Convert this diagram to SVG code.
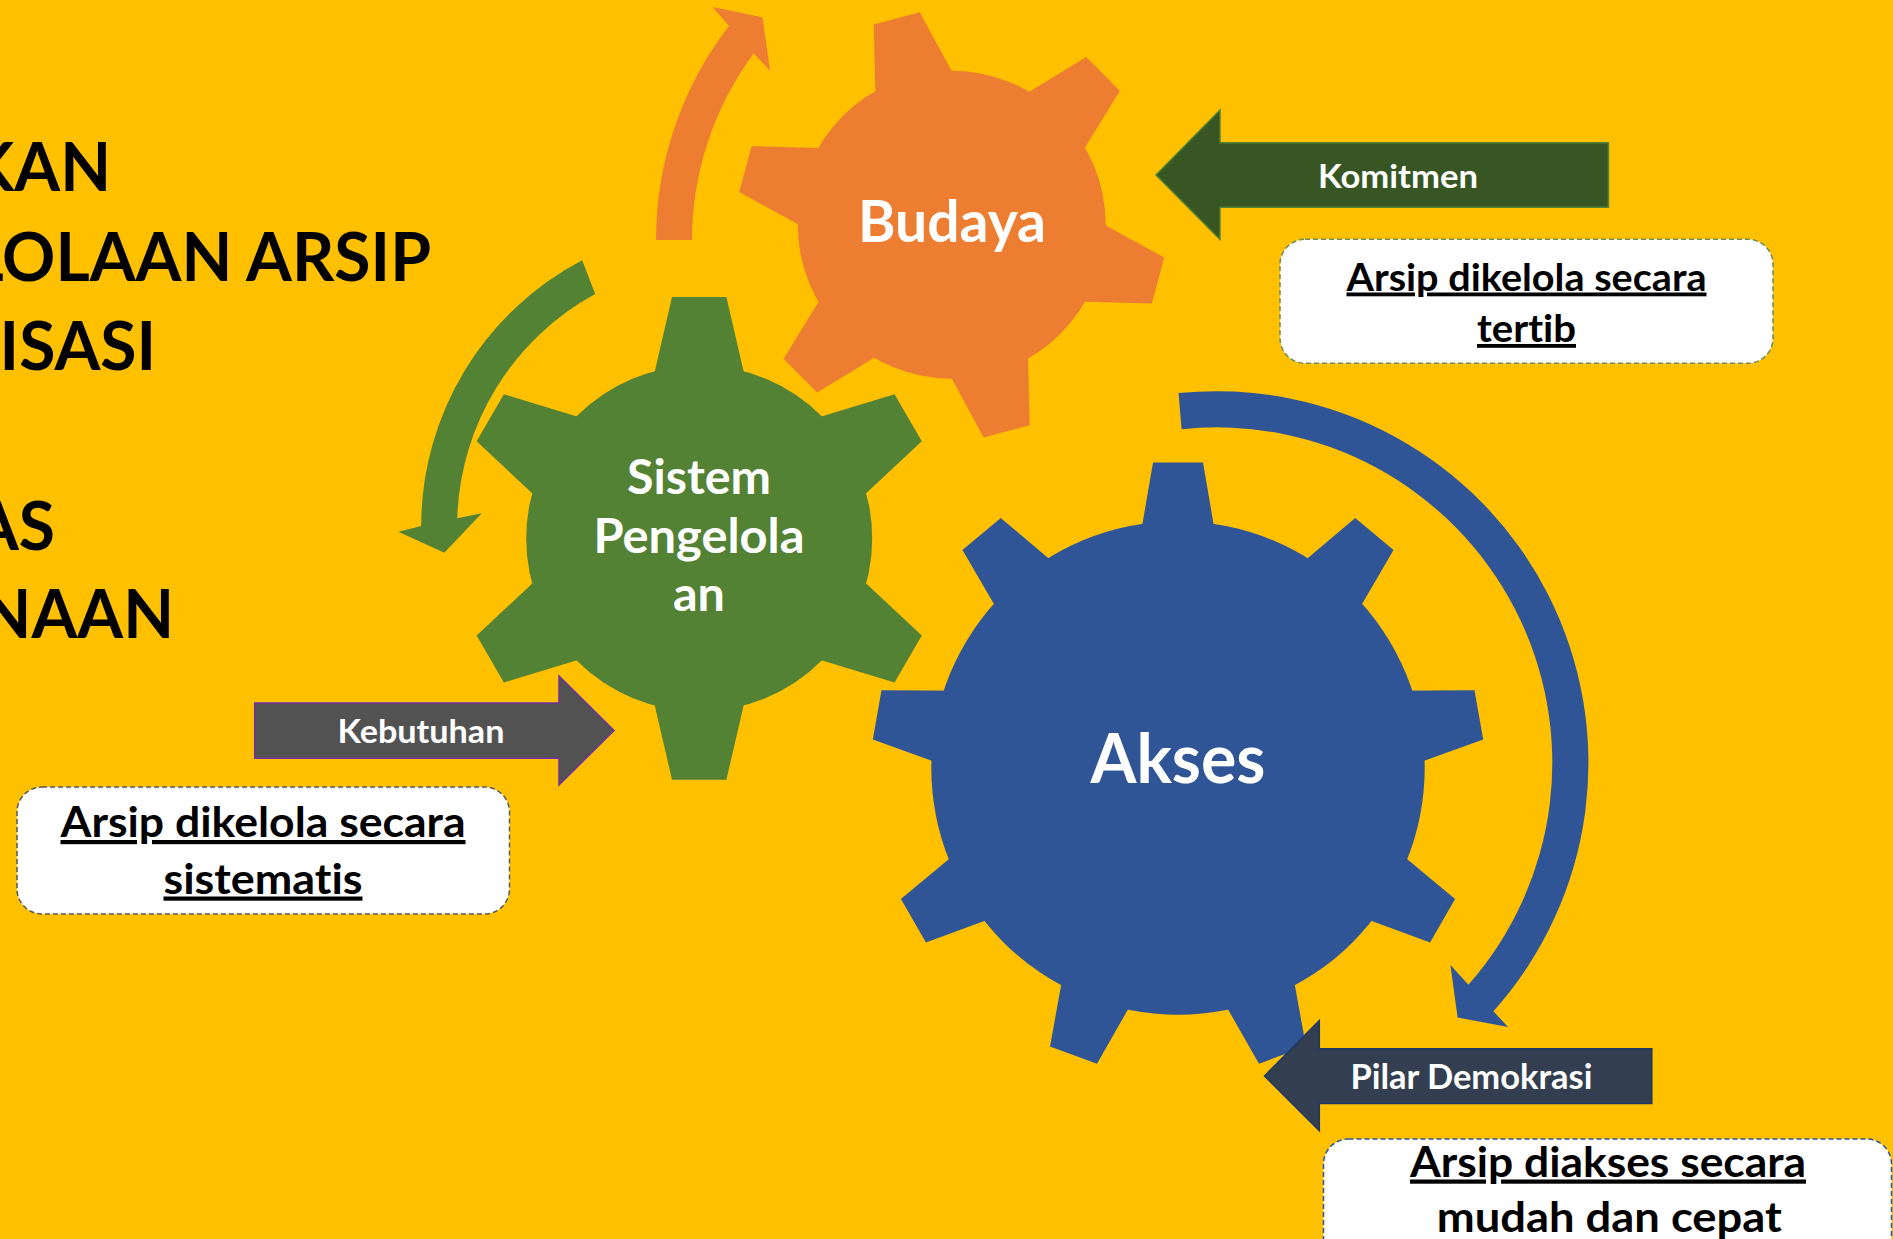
<svg xmlns="http://www.w3.org/2000/svg" width="1893" height="1239" viewBox="0 0 1893 1239">
<style>
.t{font-family:Lato,'Open Sans','Liberation Sans',sans-serif;font-weight:700;font-variant-ligatures:none}
.w{fill:#FFFFFF}
.k{fill:#000000}
.box{fill:#FFFFFF;stroke-width:1.5;stroke-dasharray:5 3}
.u{text-decoration:underline;text-decoration-thickness:3px}
.orange{fill:#ED7D31}
.green{fill:#548235}
.blue{fill:#2F5597}
</style>
<defs>
<polygon id="toothB" points="-44,-130 -23.8,-213.7 23.8,-213.7 44,-130"/>
<polygon id="toothS" points="-48.4,-150 -27.2,-241.3 27.2,-241.3 48.4,-150"/>
<polygon id="toothA" points="-39.7,-220 -25,-305.5 25,-305.5 39.7,-220"/>
</defs>
<rect x="0" y="0" width="1893" height="1239" fill="#FFC000"/>

<g id="title" class="t k" font-size="66" text-anchor="end">
<text x="111" y="190.6">KAN</text>
<text x="431" y="280.6">LOLAAN ARSIP</text>
<text x="156" y="370.1">ISASI</text>
<text x="55" y="549.6">AS</text>
<text x="174" y="638.4">NAAN</text>
</g>

<g id="gear-budaya" class="orange">
<g transform="translate(951.7,224.8)">
<circle r="154"/>
<use href="#toothB" transform="rotate(-14.9)"/>
<use href="#toothB" transform="rotate(45.1)"/>
<use href="#toothB" transform="rotate(105.1)"/>
<use href="#toothB" transform="rotate(165.1)"/>
<use href="#toothB" transform="rotate(225.1)"/>
<use href="#toothB" transform="rotate(285.1)"/>
</g>
<text class="t w" x="952" y="242" font-size="58" text-anchor="middle" textLength="188" lengthAdjust="spacingAndGlyphs">Budaya</text>
</g>

<g id="gear-sistem" class="green">
<g transform="translate(699.2,538.4)">
<circle r="173"/>
<use href="#toothS"/>
<use href="#toothS" transform="rotate(60)"/>
<use href="#toothS" transform="rotate(120)"/>
<use href="#toothS" transform="rotate(180)"/>
<use href="#toothS" transform="rotate(240)"/>
<use href="#toothS" transform="rotate(300)"/>
</g>
<g class="t w" font-size="47" text-anchor="middle">
<text x="699" y="494" textLength="144" lengthAdjust="spacingAndGlyphs">Sistem</text>
<text x="699" y="553" textLength="211" lengthAdjust="spacingAndGlyphs">Pengelola</text>
<text x="699" y="611" textLength="52" lengthAdjust="spacingAndGlyphs">an</text>
</g>
</g>

<g id="gear-akses" class="blue">
<g transform="translate(1178,768)">
<circle r="246.7"/>
<use href="#toothA"/>
<use href="#toothA" transform="rotate(40)"/>
<use href="#toothA" transform="rotate(80)"/>
<use href="#toothA" transform="rotate(120)"/>
<use href="#toothA" transform="rotate(160)"/>
<use href="#toothA" transform="rotate(200)"/>
<use href="#toothA" transform="rotate(240)"/>
<use href="#toothA" transform="rotate(280)"/>
<use href="#toothA" transform="rotate(320)"/>
</g>
<text class="t w" x="1178" y="783" font-size="68" text-anchor="middle" textLength="175" lengthAdjust="spacingAndGlyphs">Akses</text>
</g>

<g id="connectors">
<path class="orange" d="M656,240 A350,350 0 0 1 728.9,26.1 L712.7,6.9 L762.5,17.2 L770.1,70.8 L753.7,53.6 A314,314 0 0 0 692,240 Z"/>
<path class="green" d="M582.2,260.2 A300,300 0 0 0 421.2,526.1 L398.4,531.7 L444.3,552.8 L481.8,513.3 L457.3,518.3 A264,264 0 0 1 595.2,294.1 Z"/>
<path class="blue" d="M1178.5,393.1 A371.8,371.8 0 0 1 1493.4,1011.2 L1508,1027 L1457.6,1017.4 L1450.4,965 L1468.4,984.8 A335.5,335.5 0 0 0 1181.6,429.2 Z"/>
</g>

<g id="arrow-komitmen">
<polygon points="1608.4,142.7 1220,142.7 1220,110 1156,175 1220,239.5 1220,207.3 1608.4,207.3" fill="#375623" stroke="#548235" stroke-width="1.5"/>
<text class="t w" x="1398" y="187.7" font-size="32" text-anchor="middle" textLength="160" lengthAdjust="spacingAndGlyphs">Komitmen</text>
</g>

<g id="box-tertib">
<rect class="box" x="1280" y="239.3" width="493" height="124" rx="25" stroke="#6E8B5A"/>
<g class="t k u" font-size="38" text-anchor="middle">
<text x="1526.5" y="290.5" textLength="360" lengthAdjust="spacingAndGlyphs">Arsip dikelola secara</text>
<text x="1526.5" y="342" textLength="99" lengthAdjust="spacingAndGlyphs">tertib</text>
</g>
</g>

<g id="arrow-kebutuhan">
<polygon points="254.7,703 559,703 559,676 614,730.5 559,785 559,758.3 254.7,758.3" fill="#525252" stroke="#7030A0" stroke-width="1.5"/>
<text class="t w" x="421" y="743" font-size="32" text-anchor="middle" textLength="167" lengthAdjust="spacingAndGlyphs">Kebutuhan</text>
</g>

<g id="box-sistematis">
<rect class="box" x="17" y="787" width="492.5" height="127" rx="25" stroke="#595959"/>
<g class="t k u" font-size="42" text-anchor="middle">
<text x="263" y="837" textLength="405" lengthAdjust="spacingAndGlyphs">Arsip dikelola secara</text>
<text x="263" y="893.5" textLength="199" lengthAdjust="spacingAndGlyphs">sistematis</text>
</g>
</g>

<g id="arrow-pilar">
<polygon points="1651.8,1048.8 1319.3,1048.8 1319.3,1020.5 1264.5,1076 1319.3,1130.8 1319.3,1103.4 1651.8,1103.4" fill="#333F50" stroke="#203864" stroke-width="1.5"/>
<text class="t w" x="1471.4" y="1089.3" font-size="35" text-anchor="middle" textLength="242" lengthAdjust="spacingAndGlyphs">Pilar Demokrasi</text>
</g>

<g id="box-akses">
<rect class="box" x="1323.5" y="1139" width="568" height="140" rx="25" stroke="#2F5597"/>
<text class="t k u" x="1608" y="1176.5" font-size="42" text-anchor="middle" textLength="396" lengthAdjust="spacingAndGlyphs">Arsip diakses secara</text>
<text class="t k" x="1609.3" y="1231.8" font-size="42" text-anchor="middle" textLength="345" lengthAdjust="spacingAndGlyphs">mudah dan cepat</text>
</g>
</svg>
